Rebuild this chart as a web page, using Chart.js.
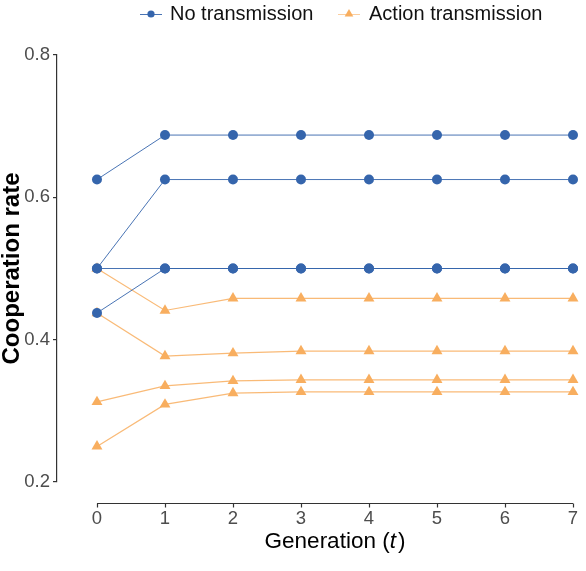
<!DOCTYPE html>
<html><head><meta charset="utf-8">
<script src="https://cdn.jsdelivr.net/npm/chart.js@4"></script>
<style>html,body{margin:0;padding:0;background:#fff}</style>
</head><body>
<canvas id="c" width="586" height="571"></canvas>
<script>
const generations = [0, 1, 2, 3, 4, 5, 6, 7];
const xTickLabels = ['0', '1', '2', '3', '4', '5', '6', '7'];
const yTickValues = [0.2, 0.4, 0.6, 0.8];
const yTickLabels = ['0.2', '0.4', '0.6', '0.8'];
const legendLabels = ['No transmission', 'Action transmission'];

const noTransmissionA = [0.625, 0.6875, 0.6875, 0.6875, 0.6875, 0.6875, 0.6875, 0.6875];
const noTransmissionB = [0.5, 0.625, 0.625, 0.625, 0.625, 0.625, 0.625, 0.625];
const noTransmissionC = [0.5, 0.5, 0.5, 0.5, 0.5, 0.5, 0.5, 0.5];
const noTransmissionD = [0.4375, 0.5, 0.5, 0.5, 0.5, 0.5, 0.5, 0.5];

const actionA = [0.5, 0.441, 0.458, 0.458, 0.458, 0.458, 0.458, 0.458];
const actionB = [0.4375, 0.377, 0.381, 0.384, 0.384, 0.384, 0.384, 0.384];
const actionC = [0.3125, 0.335, 0.342, 0.3435, 0.3435, 0.3435, 0.3435, 0.3435];
const actionD = [0.25, 0.309, 0.325, 0.3265, 0.3265, 0.3265, 0.3265, 0.3265];

const BLUE = '#3565ac';
const BLUE_LINE = 'rgba(53,101,172,0.9)';
const ORANGE = '#f8ae5f';
const ORANGE_LINE = 'rgba(248,174,95,0.85)';
const FONT = '"Liberation Sans", Arial, sans-serif';

function pts(arr) { return generations.map((g, i) => ({ x: g, y: arr[i] })); }
function blueSet(arr) {
  return { label: legendLabels[0], data: pts(arr), borderColor: BLUE_LINE, borderWidth: 1,
    pointStyle: 'circle', pointRadius: 5, pointBackgroundColor: BLUE, pointBorderWidth: 0,
    showLine: true, fill: false, tension: 0, clip: false };
}
function orangeSet(arr) {
  return { label: legendLabels[1], data: pts(arr), borderColor: ORANGE_LINE, borderWidth: 1.2,
    pointStyle: 'triangle', pointRadius: 6.3, pointBackgroundColor: ORANGE, pointBorderWidth: 0,
    showLine: true, fill: false, tension: 0, clip: false };
}

const axisPlugin = {
  id: 'axisPlugin',
  afterDraw(chart) {
    const ctx = chart.ctx, xs = chart.scales.x, ys = chart.scales.y;
    const yLine = Math.round(ys.getPixelForValue(0.1705)) + 0.5;
    ctx.save();
    ctx.strokeStyle = '#333';
    ctx.lineWidth = 1.2;
    ctx.beginPath();
    ctx.moveTo(xs.getPixelForValue(generations[0]), yLine);
    ctx.lineTo(xs.getPixelForValue(generations[generations.length - 1]), yLine);
    generations.forEach(g => {
      const px = Math.round(xs.getPixelForValue(g)) + 0.5;
      ctx.moveTo(px, yLine);
      ctx.lineTo(px, yLine + 4);
    });
    ctx.stroke();
    // x axis title with italic t
    const cx = (xs.getPixelForValue(generations[0]) + xs.getPixelForValue(generations[generations.length - 1])) / 2;
    const ty = 542;
    const parts = [['Generation (', 'normal'], ['t', 'italic'], [')', 'normal']];
    let total = 0;
    parts.forEach(p => { ctx.font = p[1] + ' 22.5px ' + FONT; total += ctx.measureText(p[0]).width + (p[1] === 'italic' ? 2 : 0); });
    let x = cx - total / 2;
    ctx.fillStyle = '#000';
    ctx.textBaseline = 'middle';
    ctx.textAlign = 'left';
    parts.forEach(p => {
      ctx.font = p[1] + ' 22.5px ' + FONT;
      ctx.fillText(p[0], x, ty);
      x += ctx.measureText(p[0]).width + (p[1] === 'italic' ? 2 : 0);
    });
    // legend
    const ly = 14;
    ctx.font = '20px ' + FONT;
    // item 1
    ctx.strokeStyle = BLUE_LINE; ctx.lineWidth = 1;
    ctx.beginPath(); ctx.moveTo(140, ly + 0.5); ctx.lineTo(162, ly + 0.5); ctx.stroke();
    ctx.fillStyle = BLUE;
    ctx.beginPath(); ctx.arc(151, ly, 3.6, 0, Math.PI * 2); ctx.fill();
    ctx.fillStyle = '#111';
    ctx.fillText(legendLabels[0], 170, ly);
    // item 2
    ctx.strokeStyle = 'rgba(248,174,95,0.6)'; ctx.lineWidth = 1;
    ctx.beginPath(); ctx.moveTo(338, ly + 0.5); ctx.lineTo(360, ly + 0.5); ctx.stroke();
    ctx.fillStyle = ORANGE;
    const r = 5;
    ctx.beginPath();
    ctx.moveTo(349, ly - r);
    ctx.lineTo(349 + r * 0.866, ly + r * 0.5);
    ctx.lineTo(349 - r * 0.866, ly + r * 0.5);
    ctx.closePath(); ctx.fill();
    ctx.fillStyle = '#111';
    ctx.fillText(legendLabels[1], 369, ly);
    ctx.restore();
  }
};

new Chart(document.getElementById('c'), {
  type: 'line',
  data: {
    datasets: [
      blueSet(noTransmissionA), blueSet(noTransmissionB), blueSet(noTransmissionC), blueSet(noTransmissionD),
      orangeSet(actionA), orangeSet(actionB), orangeSet(actionC), orangeSet(actionD)
    ]
  },
  options: {
    responsive: false,
    animation: false,
    layout: { padding: { top: 55, left: 0, right: 13, bottom: 0 } },
    plugins: { legend: { display: false }, tooltip: { enabled: false } },
    scales: {
      x: {
        type: 'linear', min: -0.588, max: 7,
        afterBuildTicks: s => { s.ticks = generations.map(v => ({ value: v })); },
        afterFit: s => { s.height = 89; },
        grid: { display: true, drawOnChartArea: false, drawTicks: true, tickLength: 23, color: 'rgba(0,0,0,0)' },
        border: { display: false },
        ticks: { callback: (v, i) => xTickLabels[i], color: '#4d4d4d', font: { family: FONT, size: 18.5 }, padding: 3, maxRotation: 0 }
      },
      y: {
        type: 'linear', min: 0.2, max: 0.8,
        afterBuildTicks: s => { s.ticks = yTickValues.map(v => ({ value: v })); },
        afterFit: s => { s.width = 57; },
        grid: { display: true, drawOnChartArea: false, drawTicks: true, tickLength: 4, color: '#333', lineWidth: 1.2 },
        border: { display: true, color: '#333', width: 1.2 },
        ticks: { callback: (v, i) => yTickLabels[i], color: '#4d4d4d', font: { family: FONT, size: 18.5 }, padding: 3 },
        title: { display: true, text: 'Cooperation rate', color: '#000', font: { family: FONT, size: 24, weight: 'bold', lineHeight: 1 }, padding: { top: 0, bottom: 0 } }
      }
    }
  },
  plugins: [axisPlugin]
});
</script>
</body></html>
